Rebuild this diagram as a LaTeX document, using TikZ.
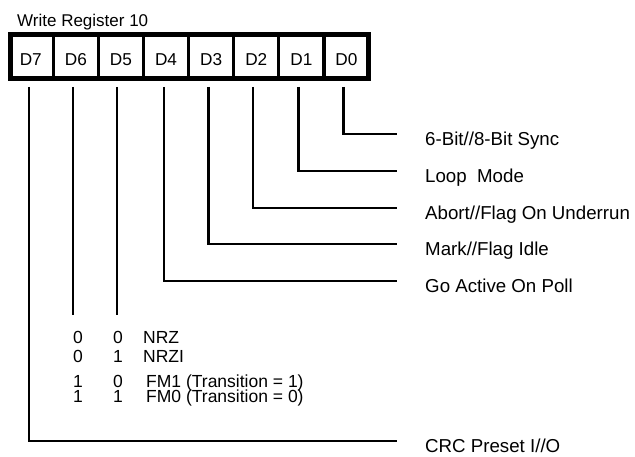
\documentclass[tikz,border=0pt]{standalone}
\usepackage{fontspec}
\setmainfont{Liberation Sans}
\usepackage{tikz}
\usetikzlibrary{positioning,calc}
\tikzset{
  bitcell/.style={
    draw=black,
    line width=1.6pt,
    minimum width=43.5pt,
    minimum height=47pt,
    inner sep=0pt,
    text height=19pt,
    text depth=0pt,
    font=\fontsize{17.2}{18}\selectfont
  },
  regframe/.style={
    draw=black,
    line width=5pt
  },
  bitline/.style={
    draw=black,
    line width=2.4pt,
    line join=miter
  },
  bitlabel/.style={
    anchor=base west,
    inner sep=0pt,
    font=\fontsize{18.7}{20}\selectfont
  },
  codetext/.style={
    anchor=base west,
    inner sep=0pt,
    font=\fontsize{17.5}{19}\selectfont
  }
}
\begin{document}
\begin{tikzpicture}[x=1pt, y=-1pt]
  \useasboundingbox (0,0) rectangle (635,457);
  \node[anchor=base west, inner sep=0pt, font=\fontsize{17}{18}\selectfont] (title) at (17,26.7) {Write Register 10};

  % register cells
  \node[bitcell] (d7) at (30.75,56.5) {D7};
  \node[bitcell, right=0pt of d7] (d6) {D6};
  \node[bitcell, right=0pt of d6] (d5) {D5};
  \node[bitcell, right=0pt of d5] (d4) {D4};
  \node[bitcell, right=0pt of d4] (d3) {D3};
  \node[bitcell, right=0pt of d3] (d2) {D2};
  \node[bitcell, right=0pt of d2] (d1) {D1};
  \node[bitcell, right=0pt of d1] (d0) {D0};
  \draw[regframe] ([shift={(2.5,2.5)}]d7.north west) rectangle ([shift={(-0.5,-2.5)}]d0.south east);

  % bit descriptions
  \node[bitlabel] (sync) at (425,145.5) {6-Bit//8-Bit Sync};
  \node[bitlabel] (loop) at (425,182.5) {Loop\ \ Mode};
  \node[bitlabel] (abort) at (425,219.5) {Abort//Flag On Underrun};
  \node[bitlabel] (mark) at (425,255.5) {Mark//Flag Idle};
  \node[bitlabel] (poll) at (425,292.5) {Go Active On Poll};
  \node[bitlabel] (crc) at (425,452.5) {CRC Preset I//O};

  \coordinate (e0) at (397,134);
  \coordinate (e1) at (397,171);
  \coordinate (e2) at (397,208);
  \coordinate (e3) at (397,244);
  \coordinate (e4) at (397,281);
  \coordinate (e7) at (397,441);
  \coordinate (e6) at (73,315);
  \coordinate (e5) at (117,315);

  \draw[bitline] ([xshift=-3pt,yshift=-6pt]d0.south) |- (e0);
  \draw[bitline] ([xshift=-2.75pt,yshift=-6pt]d1.south) |- (e1);
  \draw[bitline] ([xshift=-3pt,yshift=-6pt]d2.south) |- (e2);
  \draw[bitline] ([xshift=-2.75pt,yshift=-6pt]d3.south) |- (e3);
  \draw[bitline] ([xshift=-2pt,yshift=-6pt]d4.south) |- (e4);
  \draw[bitline] ([yshift=-6pt]d6.south -| e6) -- (e6);
  \draw[bitline] ([yshift=-6pt]d5.south -| e5) -- (e5);
  \draw[bitline] ([xshift=-1.75pt,yshift=-6pt]d7.south) |- (e7);

  % encoding table
  \node[codetext] (c1a) at (73,343) {0};
  \node[codetext] (c1b) at (113,343) {0};
  \node[codetext] (c1c) at (143,343) {NRZ};
  \node[codetext] (c2a) at (73,362) {0};
  \node[codetext] (c2b) at (113,362) {1};
  \node[codetext] (c2c) at (143,362) {NRZI};
  \node[codetext] (c3a) at (73,387) {1};
  \node[codetext] (c3b) at (113,387) {0};
  \node[codetext] (c3c) at (146,387) {FM1 (Transition = 1)};
  \node[codetext] (c4a) at (73,402) {1};
  \node[codetext] (c4b) at (113,402) {1};
  \node[codetext] (c4c) at (146,402) {FM0 (Transition = 0)};
\end{tikzpicture}
\end{document}
